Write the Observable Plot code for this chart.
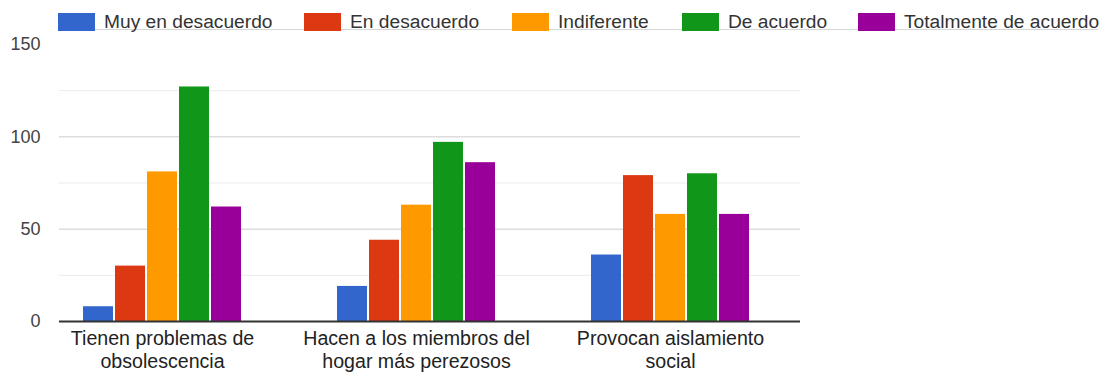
<!DOCTYPE html>
<html>
<head>
<meta charset="utf-8">
<script src="https://cdn.jsdelivr.net/npm/d3@7"></script>
<script src="https://cdn.jsdelivr.net/npm/@observablehq/plot@0.6"></script>
<style>
  body { margin: 0; background: #fff; font-family: "Liberation Sans", Arial, sans-serif; }
  #wrap { position: relative; width: 1109px; height: 372px; }
  #legend { position: absolute; top: 13px; left: 0; width: 1109px; height: 18px; font-size: 19.2px; color: #333; z-index: 2; white-space: nowrap; }
  #legend .item { position: absolute; top: 0; display: flex; align-items: center; height: 18px; }
  #legend .sw { width: 37px; height: 18px; margin-right: 9px; }
  #legline { position: absolute; top: 29px; left: 58px; width: 1040px; height: 1px; background: #d6d6d6; z-index: 1; }
  #chart { position: absolute; top: 0; left: 0; }
</style>
</head>
<body>
<div id="wrap">
  <div id="legline"></div>
  <div id="legend"></div>
  <div id="chart"></div>
</div>
<script>
const groups = ["Tienen problemas de obsolescencia", "Hacen a los miembros del hogar más perezosos", "Provocan aislamiento social"];
const groupLabels = ["Tienen problemas de\nobsolescencia", "Hacen a los miembros del\nhogar más perezosos", "Provocan aislamiento\nsocial"];
const series = ["Muy en desacuerdo", "En desacuerdo", "Indiferente", "De acuerdo", "Totalmente de acuerdo"];
const colors = ["#3366cc", "#dc3912", "#ff9900", "#109618", "#990099"];
const muyEnDesacuerdo = [8, 19, 36];
const enDesacuerdo = [30, 44, 79];
const indiferente = [81, 63, 58];
const deAcuerdo = [127, 97, 80];
const totalmenteDeAcuerdo = [62, 86, 58];
const yTicks = [0, 50, 100, 150];
const majorGrid = [50, 100];
const minorGrid = [25, 75, 125];

const seriesValues = [muyEnDesacuerdo, enDesacuerdo, indiferente, deAcuerdo, totalmenteDeAcuerdo];

// legend (layout positions of the legend items)
const legendLeft = [58, 304, 512, 682, 858];
const legend = document.getElementById("legend");
series.forEach((s, i) => {
  const it = document.createElement("div");
  it.className = "item";
  it.style.left = legendLeft[i] + "px";
  it.innerHTML = `<div class="sw" style="background:${colors[i]}"></div><span>${s}</span>`;
  legend.appendChild(it);
});

const barMarks = seriesValues.map((vals, i) =>
  Plot.barY(groups.map((g, j) => ({group: g, value: vals[j]})), {
    x: "group", y: "value", fill: colors[i],
    dx: (i - 2) * 32, insetLeft: 112, insetRight: 112
  })
);

const labelData = groups.map((g, j) => ({group: g, label: groupLabels[j]}));

const chart = Plot.plot({
  width: 1109,
  height: 372,
  marginLeft: 59,
  marginRight: 309,
  marginTop: 44,
  marginBottom: 51,
  style: {fontFamily: "'Liberation Sans', Arial, sans-serif", fontSize: "18px", color: "#444", background: "transparent"},
  x: {domain: groups, range: [34, 797], padding: 0, axis: null},
  y: {domain: [0, 150], ticks: yTicks, tickSize: 0, tickPadding: 19, label: null, tickFormat: d => String(d)},
  marks: [
    Plot.ruleY(minorGrid, {stroke: "#ebebeb", strokeWidth: 1}),
    Plot.ruleY(majorGrid, {stroke: "#cccccc", strokeWidth: 1}),
    ...barMarks,
    Plot.ruleY([0], {stroke: "#333", strokeWidth: 2}),
    Plot.text(labelData, {x: "group", y: () => 0, text: "label", lineAnchor: "top", dy: 7, fontSize: 19.6, lineHeight: 1.18, fill: "#222"})
  ]
});
document.getElementById("chart").appendChild(chart);
</script>
</body>
</html>
